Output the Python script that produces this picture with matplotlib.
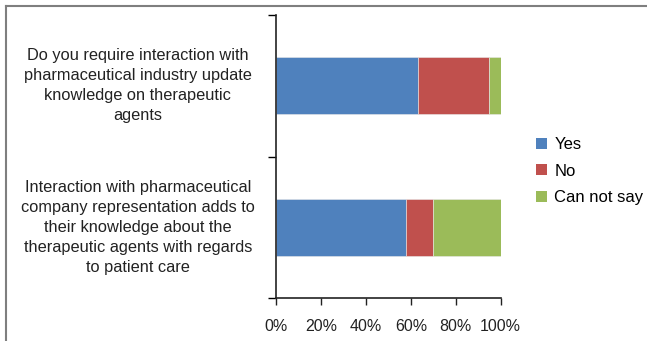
import numpy as np
from matplotlib import pyplot as plt
from matplotlib.transforms import blended_transform_factory
from matplotlib.lines import Line2D
from matplotlib.patches import Patch

plt.rcParams["font.family"] = ["Liberation Sans", "DejaVu Sans"]

# bottom to top
questions = [
    "Interaction with pharmaceutical\ncompany representation adds to\ntheir knowledge about the\ntherapeutic agents with regards\nto patient care",
    "Do you require interaction with\npharmaceutical industry update\nknowledge on therapeutic\nagents",
]
answers = ["Yes", "No", "Can not say"]
yes = [58, 63]
no = [12, 32]
cant_say = [30, 5]
colors = ["#4F81BD", "#C0504D", "#9BBB59"]
xtick_vals = [0, 20, 40, 60, 80, 100]

fig = plt.figure(figsize=(6.47, 3.41), dpi=100)
ax = fig.add_axes([0.4266, 0.126, 0.3473, 0.830])

y = np.arange(len(questions))
left = np.zeros(len(questions))
for vals, name, c in zip([yes, no, cant_say], answers, colors):
    ax.barh(y, vals, left=left, height=0.4, color=c, label=name,
            edgecolor="#e8e8e8", linewidth=0.4)
    left += np.array(vals)

ax.set_xlim(0, 100)
ax.set_ylim(-0.5, len(questions) - 0.5)
ax.set_xticks(xtick_vals)
ax.set_xticklabels([f"{v}%" for v in xtick_vals])
ax.set_yticks(np.arange(-0.5, len(questions), 1.0))
ax.set_yticklabels([])

for s in ["top", "right"]:
    ax.spines[s].set_visible(False)
for s in ["left", "bottom"]:
    ax.spines[s].set_linewidth(1.2)
    ax.spines[s].set_color("#222222")
ax.tick_params(axis="x", length=5, width=1.0, pad=10, labelsize=11.5, colors="#222222")
ax.tick_params(axis="y", length=6, width=1.0)

# question labels centred to the left of the axis
trans = blended_transform_factory(fig.transFigure, ax.transData)
for yi, q in zip(y, questions):
    ax.text(0.213, yi, q, transform=trans, ha="center", va="center",
            fontsize=11.8, linespacing=1.42, color="#222222")

handles = [Patch(facecolor=c, edgecolor="none") for c in colors]
fig.legend(handles, answers, loc="center left", bbox_to_anchor=(0.818, 0.498),
           frameon=False, fontsize=12, handlelength=0.65, handleheight=0.65,
           handletextpad=0.45, labelspacing=0.68, borderaxespad=0)

# outer frame (top and left edges)
fig.add_artist(Line2D([0.009, 1.0], [0.981, 0.981], transform=fig.transFigure,
                      color="#7f7f7f", linewidth=1.5))
fig.add_artist(Line2D([0.009, 0.009], [0.0, 0.981], transform=fig.transFigure,
                      color="#7f7f7f", linewidth=1.5))

plt.savefig("out.png", dpi=100)
plt.close()
